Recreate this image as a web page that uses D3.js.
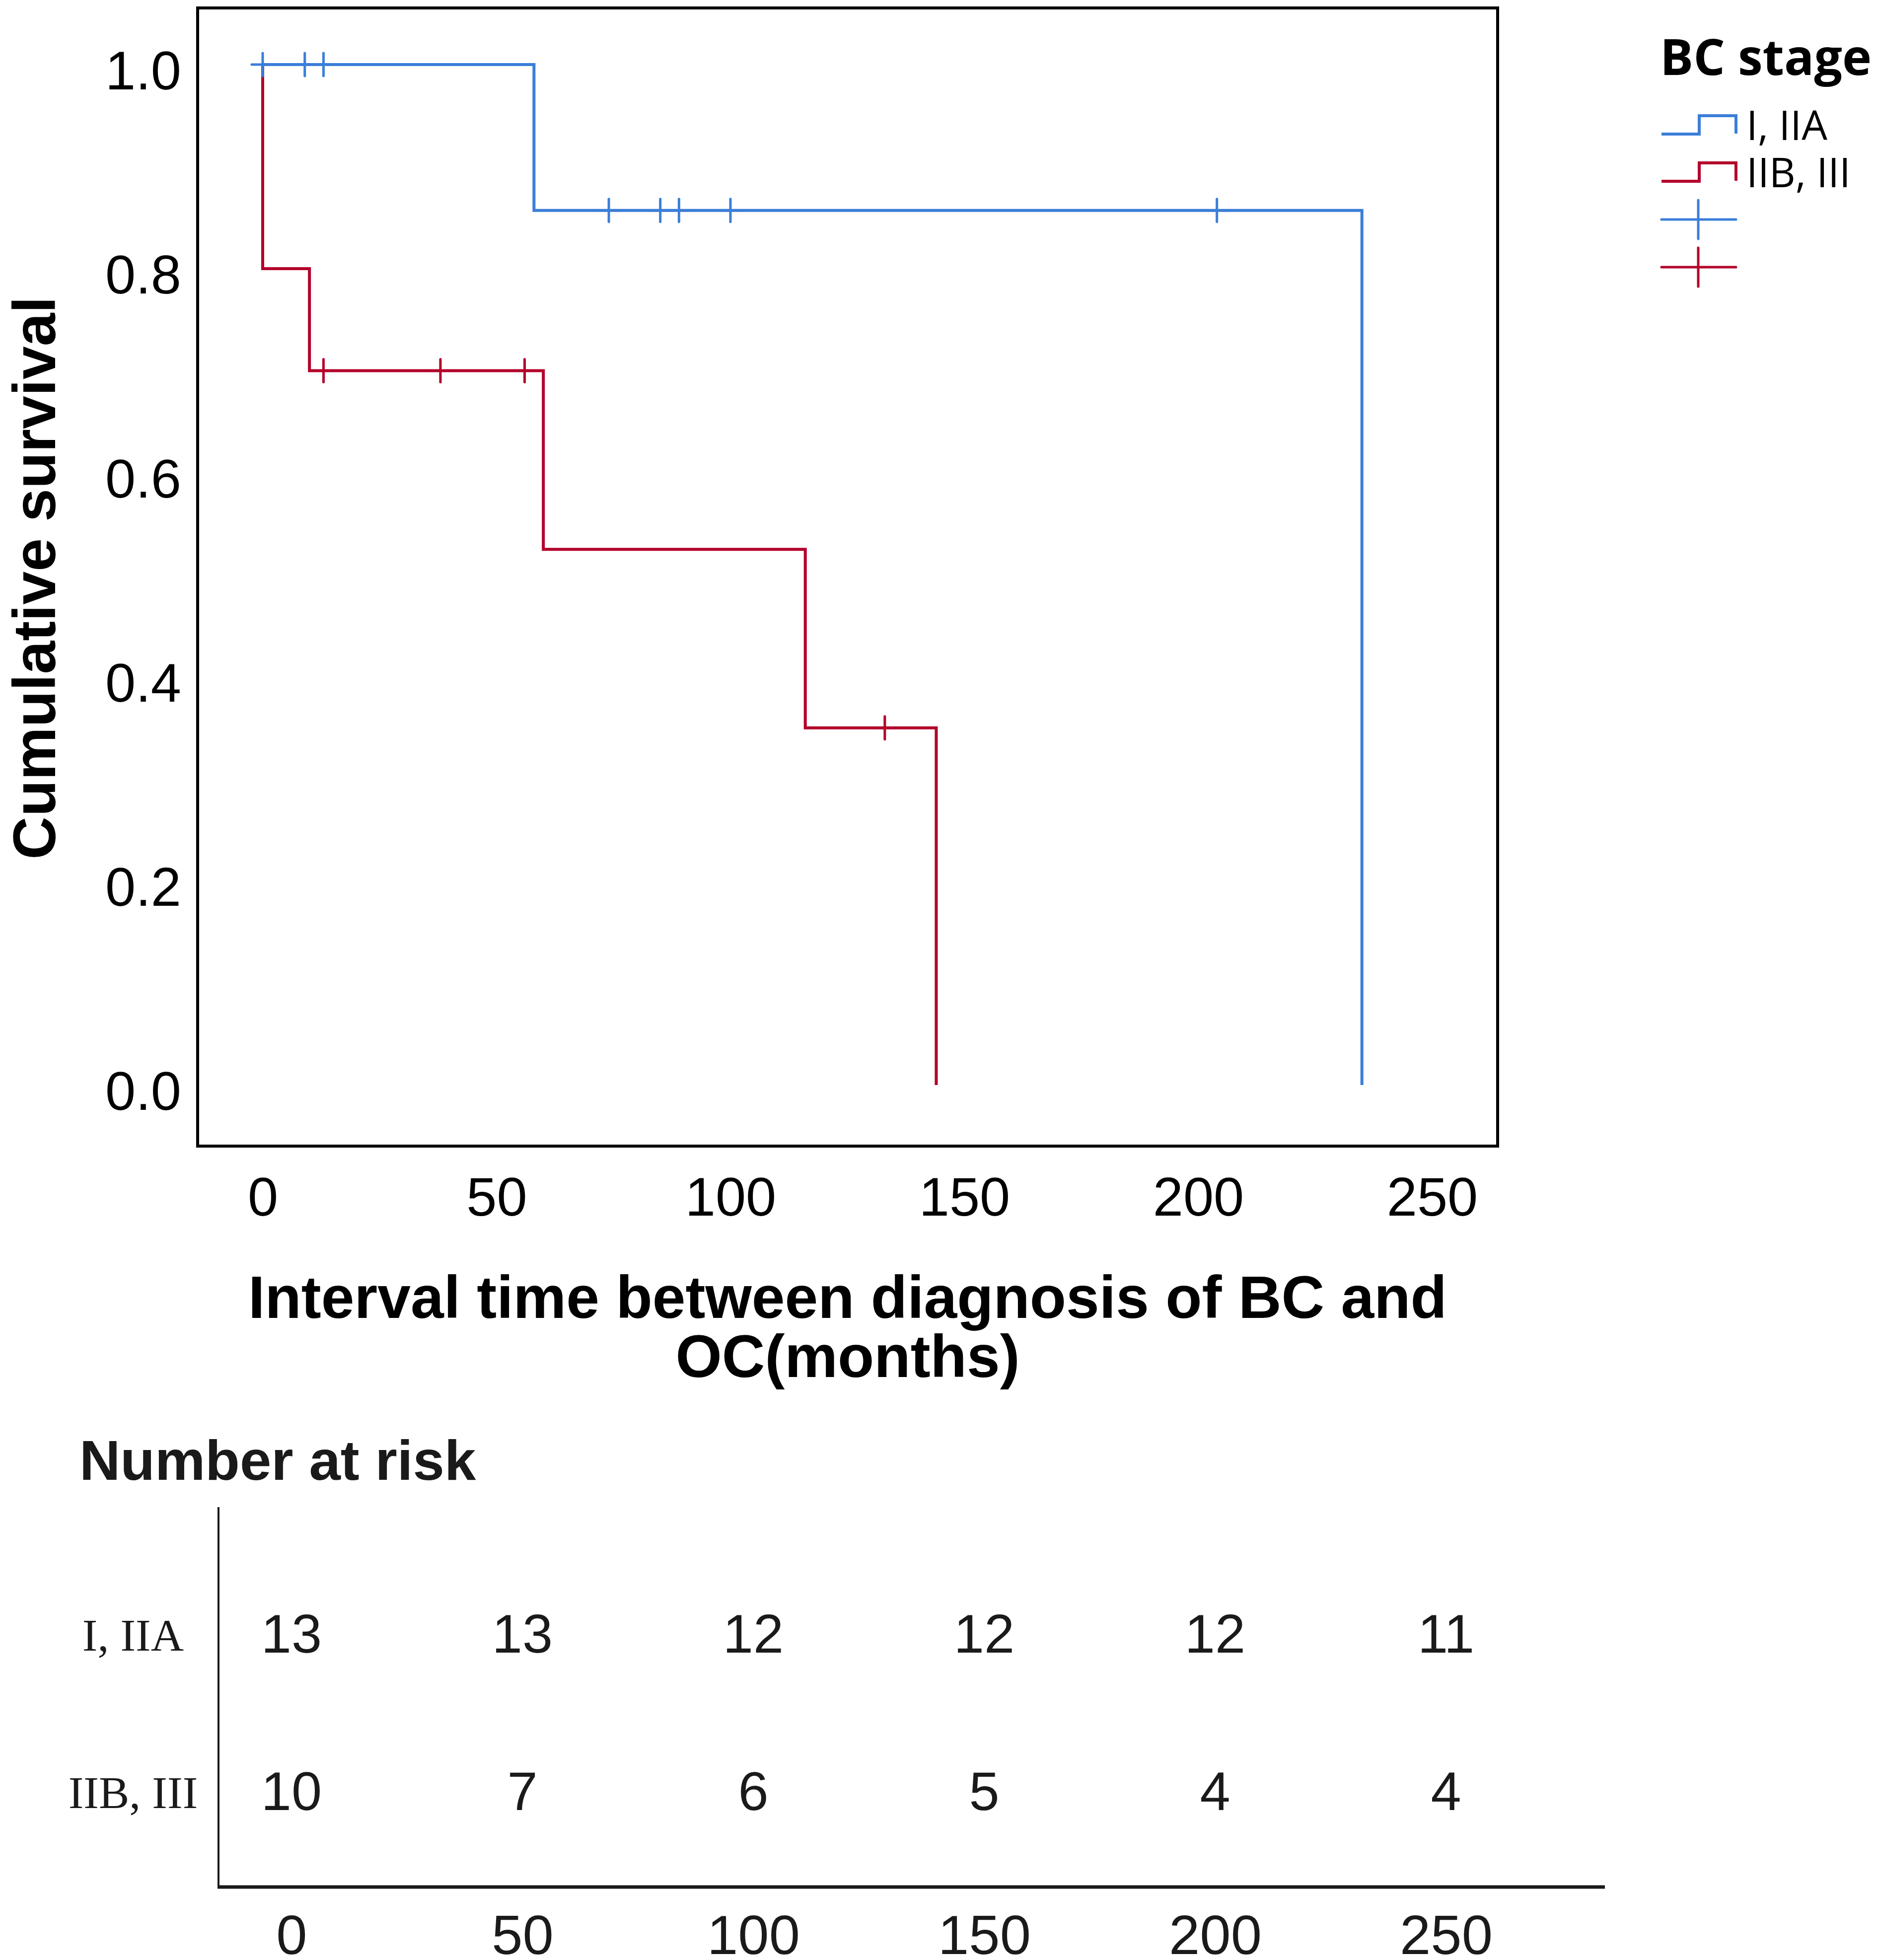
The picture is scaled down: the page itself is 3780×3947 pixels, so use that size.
<!DOCTYPE html>
<html>
<head>
<meta charset="utf-8">
<script src="https://cdn.jsdelivr.net/npm/d3@7"></script>
<style>
  html, body { margin: 0; padding: 0; background: #fff; }
  svg { display: block; }
</style>
</head>
<body>
<svg id="chart" width="3780" height="3947"></svg>
<script>
// ---------------- DATA ----------------
const timeTicks = [0, 50, 100, 150, 200, 250];
const survTicks = [0.0, 0.2, 0.4, 0.6, 0.8, 1.0];
const groups = ["I, IIA", "IIB, III"];

// Kaplan-Meier steps (time, survival)
const stepTimesI  = [0, 58, 235];
const stepSurvI   = [1.0, 0.857, 0.0];
const stepTimesII = [0, 0, 10, 60, 116, 144];
const stepSurvII  = [1.0, 0.8, 0.7, 0.525, 0.35, 0.0];

// censored observations (time)
const censorI  = [0, 9, 13, 74, 85, 89, 100, 204];
const censorII = [13, 38, 56, 133];

// number at risk
const riskTimes = [0, 50, 100, 150, 200, 250];
const atRiskI   = [13, 13, 12, 12, 12, 11];
const atRiskII  = [10, 7, 6, 5, 4, 4];

const colorI = "#3b7ed8";
const colorII = "#b3002a";

// ---------------- CHART ----------------
const svg = d3.select("#chart");
svg.append("rect").attr("width", 3780).attr("height", 3947).attr("fill", "#fff");

const x = d3.scaleLinear().domain([0, 250]).range([529, 2884]);
const y = d3.scaleLinear().domain([0, 1]).range([2185, 130]);

const sans = "'Liberation Sans', Arial, Helvetica, sans-serif";
const humanist = "'Open Sans', 'Noto Sans', sans-serif";
const serif = "'Liberation Serif', 'Times New Roman', serif";

// frame
svg.append("rect")
  .attr("x", 398).attr("y", 16).attr("width", 3016 - 398).attr("height", 2308 - 16)
  .attr("fill", "none").attr("stroke", "#000").attr("stroke-width", 6);

// y tick labels
const yAxis = d3.axisLeft(y).tickValues(survTicks).tickFormat(d3.format(".1f")).tickSize(0).tickPadding(0);
const gy = svg.append("g").attr("transform", "translate(365,0)").call(yAxis);
gy.select(".domain").remove();
gy.selectAll("text")
  .attr("font-family", sans).attr("font-size", 110).attr("fill", "#000")
  .attr("dy", null).attr("y", 49).attr("x", 0).attr("text-anchor", "end");

// x tick labels
const xAxis = d3.axisBottom(x).tickValues(timeTicks).tickFormat(d3.format("d")).tickSize(0).tickPadding(0);
const gx = svg.append("g").attr("transform", "translate(0,2448)").call(xAxis);
gx.select(".domain").remove();
gx.selectAll("text")
  .attr("font-family", sans).attr("font-size", 110).attr("fill", "#000")
  .attr("dy", null).attr("y", 0);

// axis titles
svg.append("text")
  .attr("transform", "translate(111,1164) rotate(-90)")
  .attr("text-anchor", "middle")
  .attr("font-family", sans).attr("font-weight", "bold").attr("font-size", 120)
  .attr("fill", "#000")
  .text("Cumulative survival");

const xt = svg.append("text")
  .attr("text-anchor", "middle")
  .attr("font-family", sans).attr("font-weight", "bold").attr("font-size", 120)
  .attr("fill", "#000");
xt.append("tspan").attr("x", 1707).attr("y", 2654).text("Interval time between diagnosis of BC and");
xt.append("tspan").attr("x", 1707).attr("y", 2773).text("OC(months)");

// curves
const line = d3.line().x(d => x(d[0])).y(d => y(d[1])).curve(d3.curveStepAfter);
function survAt(times, surv, t) {
  let s = surv[0];
  for (let i = 0; i < times.length; i++) if (times[i] <= t) s = surv[i];
  return s;
}
const series = [
  { times: stepTimesII, surv: stepSurvII, cens: censorII, color: colorII },
  { times: stepTimesI,  surv: stepSurvI,  cens: censorI,  color: colorI }
];
series.forEach(s => {
  const pts = s.times.map((t, i) => [t, s.surv[i]]);
  svg.append("path")
    .attr("d", line(pts))
    .attr("fill", "none").attr("stroke", s.color).attr("stroke-width", 6)
    .attr("stroke-linejoin", "miter");
  svg.append("g").selectAll("path").data(s.cens).join("path")
    .attr("d", t => {
      const cx = x(t), cy = y(survAt(s.times, s.surv, t));
      return `M${cx - 22},${cy}H${cx + 22}M${cx},${cy - 23}V${cy + 23}`;
    })
    .attr("fill", "none").attr("stroke", s.color).attr("stroke-width", 5)
    .attr("stroke-linecap", "round");
});

// legend
svg.append("text").attr("x", 3343).attr("y", 151)
  .attr("font-family", humanist).attr("font-weight", "bold").attr("font-size", 100)
  .attr("fill", "#000").text("BC stage");
const legColors = [colorI, colorII];
const legY = [270, 365];
groups.forEach((g, i) => {
  const yy = legY[i];
  svg.append("path")
    .attr("d", `M3346,${yy}H3422V${yy - 37}H3496V${yy - 1}`)
    .attr("fill", "none").attr("stroke", legColors[i]).attr("stroke-width", 6);
  svg.append("text").attr("x", 3517).attr("y", yy + 12)
    .attr("font-family", humanist).attr("font-size", 82).attr("fill", "#000").text(g);
});
[442, 538].forEach((cy, i) => {
  svg.append("path")
    .attr("d", `M3346,${cy}H3496M3420,${cy - 39}V${cy + 39}`)
    .attr("fill", "none").attr("stroke", legColors[i]).attr("stroke-width", 5)
    .attr("stroke-linecap", "round");
});

// ---------------- NUMBER AT RISK ----------------
const xr = d3.scaleLinear().domain([0, 250]).range([587, 2912]);
const ink = "#1a1a1a";

svg.append("text").attr("x", 160).attr("y", 2980)
  .attr("font-family", sans).attr("font-weight", "bold").attr("font-size", 114)
  .attr("fill", ink).text("Number at risk");

svg.append("line").attr("x1", 440).attr("x2", 440).attr("y1", 3035).attr("y2", 3803)
  .attr("stroke", ink).attr("stroke-width", 4);
svg.append("line").attr("x1", 438).attr("x2", 3232).attr("y1", 3800).attr("y2", 3800)
  .attr("stroke", ink).attr("stroke-width", 7);

const rowY = [3328, 3645];
const rows = [atRiskI, atRiskII];
groups.forEach((g, i) => {
  svg.append("text").attr("x", 268).attr("y", rowY[i] - 4)
    .attr("text-anchor", "middle")
    .attr("font-family", serif).attr("font-size", 92).attr("fill", ink).text(g);
  svg.append("g").selectAll("text").data(riskTimes).join("text")
    .attr("x", t => xr(t)).attr("y", rowY[i])
    .attr("text-anchor", "middle")
    .attr("font-family", sans).attr("font-size", 110).attr("fill", ink)
    .text((t, j) => rows[i][j]);
});

const xrAxis = d3.axisBottom(xr).tickValues(riskTimes).tickFormat(d3.format("d")).tickSize(0).tickPadding(0);
const gxr = svg.append("g").attr("transform", "translate(0,3935)").call(xrAxis);
gxr.select(".domain").remove();
gxr.selectAll("text")
  .attr("font-family", sans).attr("font-size", 112).attr("fill", ink)
  .attr("dy", null).attr("y", 0);
</script>
</body>
</html>
